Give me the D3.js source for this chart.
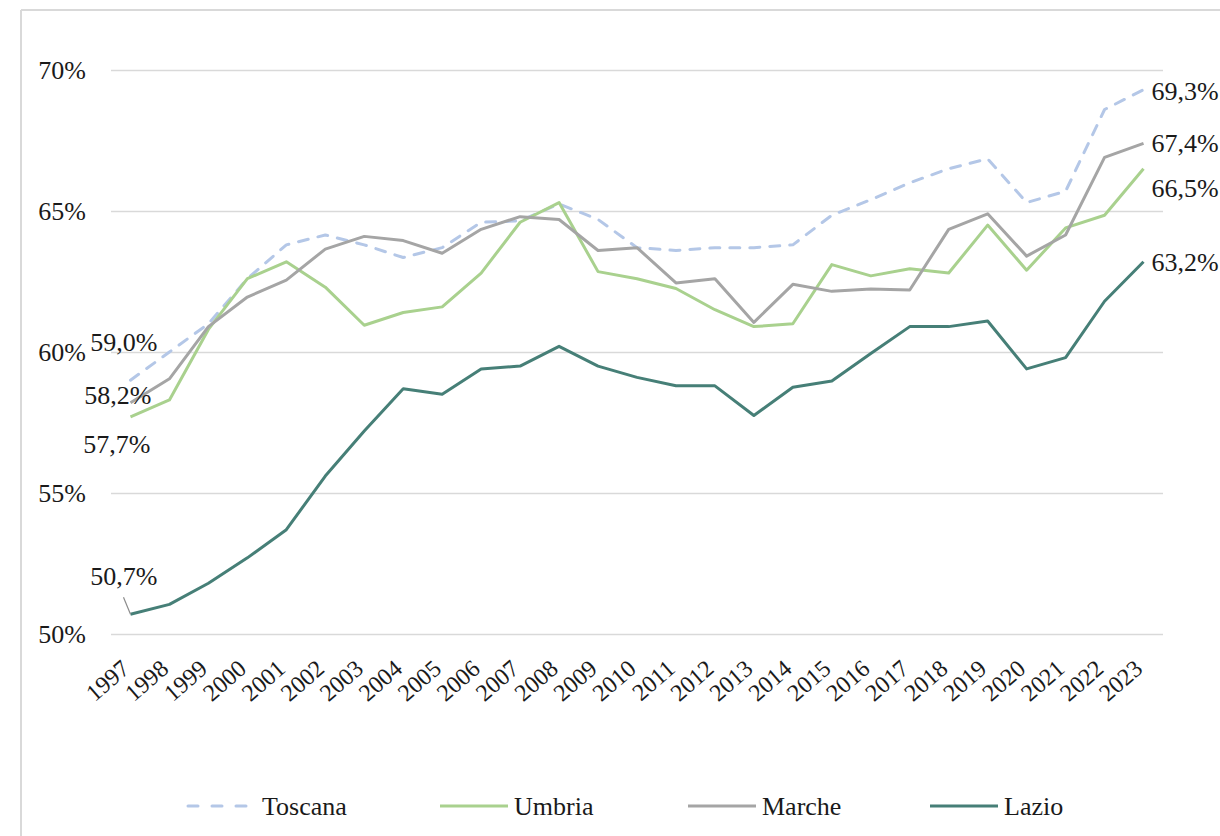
<!DOCTYPE html>
<html>
<head>
<meta charset="utf-8">
<script src="https://cdn.jsdelivr.net/npm/d3@7"></script>
<style>
  body { margin: 0; background: #fff; }
  svg { display: block; font-family: "Liberation Serif", "DejaVu Serif", serif; }
</style>
</head>
<body>
<svg id="chart"></svg>
<script>
const years = [1997, 1998, 1999, 2000, 2001, 2002, 2003, 2004, 2005, 2006, 2007, 2008, 2009,
  2010, 2011, 2012, 2013, 2014, 2015, 2016, 2017, 2018, 2019, 2020, 2021, 2022, 2023];

const toscana = [59.0, 60.0, 61.0, 62.6, 63.8, 64.15, 63.8, 63.35, 63.7, 64.6, 64.65, 65.25, 64.7,
  63.7, 63.6, 63.7, 63.7, 63.8, 64.85, 65.4, 66.0, 66.5, 66.85, 65.3, 65.7, 68.6, 69.3];
const umbria = [57.7, 58.3, 60.8, 62.6, 63.2, 62.3, 60.95, 61.4, 61.6, 62.8, 64.6, 65.3, 62.85,
  62.6, 62.25, 61.5, 60.9, 61.0, 63.1, 62.7, 62.95, 62.8, 64.5, 62.9, 64.4, 64.85, 66.5];
const marche = [58.2, 59.05, 60.9, 61.95, 62.55, 63.65, 64.1, 63.95, 63.5, 64.35, 64.8, 64.7, 63.6,
  63.7, 62.45, 62.6, 61.05, 62.4, 62.15, 62.23, 62.2, 64.35, 64.9, 63.4, 64.15, 66.9, 67.4];
const lazio = [50.7, 51.05, 51.8, 52.7, 53.7, 55.6, 57.2, 58.7, 58.5, 59.4, 59.5, 60.2, 59.5,
  59.1, 58.8, 58.8, 57.75, 58.75, 58.97, 59.95, 60.9, 60.9, 61.1, 59.4, 59.8, 61.8, 63.2];

const seriesNames = ['Toscana', 'Umbria', 'Marche', 'Lazio'];
const yTicks = [50, 55, 60, 65, 70];

// first / last value labels
const startLabels = ['59,0%', '57,7%', '58,2%', '50,7%'];
const endLabels = ['69,3%', '66,5%', '67,4%', '63,2%'];

const width = 1220;
const height = 836;

const colors = ['#b4c7e7', '#a9d18e', '#a5a5a5', '#467f77'];
const values = [toscana, umbria, marche, lazio];
const series = seriesNames.map((name, i) => ({ name, color: colors[i], values: values[i], dashed: i === 0 }));

const svg = d3.select('#chart')
  .attr('width', width)
  .attr('height', height);

// outer frame (cropped chart border)
svg.append('line').attr('x1', 21).attr('x2', width).attr('y1', 10).attr('y2', 10)
  .attr('stroke', '#d9d9d9').attr('stroke-width', 2);
svg.append('line').attr('x1', 21).attr('x2', 21).attr('y1', 10).attr('y2', height)
  .attr('stroke', '#d9d9d9').attr('stroke-width', 2);

const xScale = d3.scaleBand()
  .domain(years)
  .range([111, 1163]);
const xPos = year => xScale(year) + xScale.bandwidth() / 2;

const yScale = d3.scaleLinear()
  .domain([50, 70])
  .range([634, 70]);

// grid + y labels
const yAxis = d3.axisLeft(yScale)
  .tickValues(yTicks)
  .tickSize(-(1163 - 111))
  .tickPadding(25)
  .tickFormat(d => d + '%');

const yG = svg.append('g')
  .attr('transform', 'translate(111, 0)')
  .call(yAxis);
yG.select('.domain').remove();
yG.selectAll('.tick line').attr('stroke', '#d9d9d9').attr('stroke-width', 1.5);
yG.selectAll('.tick text')
  .attr('font-size', 26)
  .attr('fill', '#1a1a1a')
  .attr('font-family', '"Liberation Serif", serif');

// x labels
const xAxis = d3.axisBottom(d3.scalePoint().domain(years).range([xPos(1997), xPos(2023)]))
  .tickSize(0)
  .tickPadding(0);
const xG = svg.append('g')
  .attr('transform', 'translate(0, 634)')
  .call(xAxis);
xG.select('.domain').remove();
xG.selectAll('.tick text')
  .attr('font-size', 24)
  .attr('fill', '#1a1a1a')
  .attr('font-family', '"Liberation Serif", serif')
  .attr('text-anchor', 'end')
  .attr('dy', 0)
  .attr('y', 0)
  .attr('transform', 'translate(0, 37) rotate(-41)');

// lines
const line = d3.line()
  .x((d, i) => xPos(years[i]))
  .y(d => yScale(d));

svg.selectAll('path.series')
  .data(series)
  .enter()
  .append('path')
  .attr('class', 'series')
  .attr('d', d => line(d.values))
  .attr('fill', 'none')
  .attr('stroke', d => d.color)
  .attr('stroke-width', 3)
  .attr('stroke-linejoin', 'round')
  .attr('stroke-linecap', d => d.dashed ? 'round' : 'butt')
  .attr('stroke-dasharray', d => d.dashed ? '10,10' : null);

// data labels at the start
const startOffsets = [[27, -38], [20, 27], [21, -8], [27, -38]];
const x0 = xPos(1997);
svg.selectAll('text.start')
  .data(series)
  .enter()
  .append('text')
  .attr('class', 'start')
  .attr('x', (d, i) => x0 + startOffsets[i][0])
  .attr('y', (d, i) => yScale(d.values[0]) + startOffsets[i][1])
  .attr('dy', '0.35em')
  .attr('text-anchor', 'end')
  .attr('font-size', 26)
  .attr('fill', '#1a1a1a')
  .text((d, i) => startLabels[i]);

// leader line for Lazio label
svg.append('line')
  .attr('x1', x0 - 7).attr('y1', yScale(lazio[0]) - 17)
  .attr('x2', x0).attr('y2', yScale(lazio[0]))
  .attr('stroke', '#8c8c8c').attr('stroke-width', 1.2);

// data labels at the end
const endOffsets = [1, 19, 0, 0];
const x1 = xPos(2023);
svg.selectAll('text.end')
  .data(series)
  .enter()
  .append('text')
  .attr('class', 'end')
  .attr('x', x1 + 8)
  .attr('y', (d, i) => yScale(d.values[d.values.length - 1]) + endOffsets[i])
  .attr('dy', '0.35em')
  .attr('font-size', 26)
  .attr('fill', '#1a1a1a')
  .text((d, i) => endLabels[i]);

// legend
const legendX = [188, 440, 688, 930];
const legend = svg.selectAll('g.legend')
  .data(series)
  .enter()
  .append('g')
  .attr('class', 'legend')
  .attr('transform', (d, i) => `translate(${legendX[i]}, 806)`);

legend.append('line')
  .attr('x1', 0).attr('x2', 68)
  .attr('y1', 0).attr('y2', 0)
  .attr('stroke', d => d.color)
  .attr('stroke-width', 3)
  .attr('stroke-linecap', d => d.dashed ? 'round' : 'butt')
  .attr('stroke-dasharray', d => d.dashed ? '10,14' : null);

legend.append('text')
  .attr('x', 74)
  .attr('y', 0)
  .attr('dy', '0.35em')
  .attr('font-size', 26)
  .attr('fill', '#1a1a1a')
  .text(d => d.name);
</script>
</body>
</html>
